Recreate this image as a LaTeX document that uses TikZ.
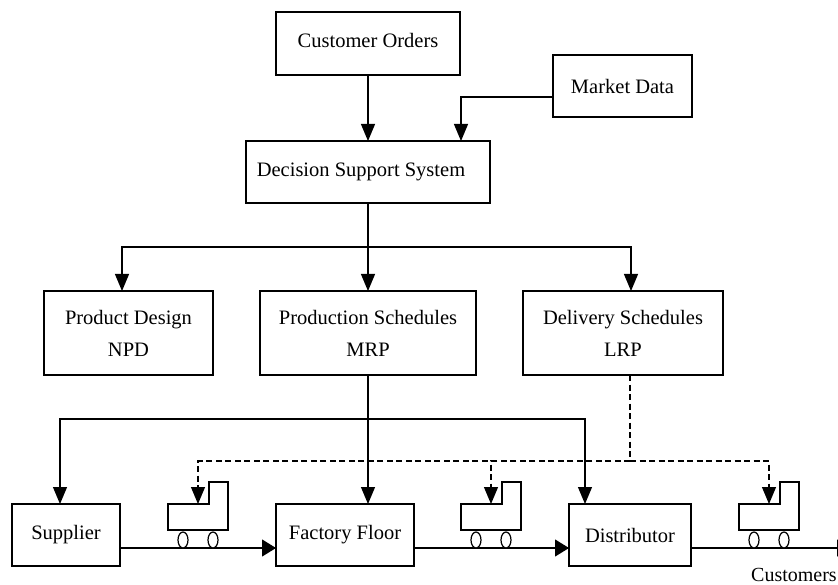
\documentclass[tikz,border=0pt]{standalone}
\usepackage{fontspec}
\setmainfont{Liberation Serif}
\usepackage{tikz}
\usetikzlibrary{arrows.meta}
\tikzset{
    Box/.style = {draw,line width=1.2pt,inner sep=0pt,outer sep=0pt,align=center,font=\fontsize{20.5}{32}\selectfont},
    Flow/.style = {line width=1.2pt,-{Triangle[length=17pt,width=14pt]}},
    FlowH/.style = {line width=1.2pt,-{Triangle[length=14pt,width=17pt]}},
    DashLine/.style = {line width=1.2pt,dash pattern=on 6pt off 3.5pt},
    Cart/.style = {line width=1.2pt,fill=white}
}
\begin{document}
\begin{tikzpicture}[x=1pt,y=-1pt]
        \useasboundingbox (0,0) rectangle (838,585);
        % top row
        \node[Box,minimum width=184pt,minimum height=63pt] (orders) at (368,43.5) {\raisebox{6pt}{Customer Orders}};
        \node[Box,minimum width=139pt,minimum height=62pt] (market) at (622.5,86) {Market Data};
        \node[Box,minimum width=244pt,minimum height=62pt] (dss) at (368,172) {Decision Support System\hspace{14pt}};
        % plans
        \node[Box,minimum width=169pt,minimum height=84pt] (npd) at (128.5,333) {Product Design\\NPD};
        \node[Box,minimum width=216pt,minimum height=84pt] (mrp) at (368,333) {Production Schedules\\MRP};
        \node[Box,minimum width=200pt,minimum height=84pt] (lrp) at (623,333) {Delivery Schedules\\LRP};
        % bottom row
        \node[Box,minimum width=108pt,minimum height=62pt] (supplier) at (66,535) {\raisebox{-3pt}{Supplier}};
        \node[Box,minimum width=138pt,minimum height=62pt] (factory) at (345,535) {\raisebox{-3pt}{Factory Floor}};
        \node[Box,minimum width=122pt,minimum height=62pt] (distributor) at (630,535) {\raisebox{-3pt}{Distributor}};
        \node[font=\fontsize{20}{24}\selectfont,anchor=west,inner sep=0pt] (customers) at (751,575) {Customers};
        \coordinate (branch) at (368,247);
        \coordinate (split) at (368,419);
        \coordinate (dashbus) at (630,461);
        \coordinate (exit) at (851,548);
        % material flow below the carts
        \draw[FlowH] ([yshift=-13pt]supplier.east) -- ([yshift=-13pt]factory.west);
        \draw[FlowH] ([yshift=-13pt]factory.east) -- ([yshift=-13pt]distributor.west);
        \draw[FlowH] ([yshift=-13pt]distributor.east) -- (exit);
        \foreach \Name/\X in {cartA/168,cartB/461,cartC/739}
            {\draw[Cart] (\X,504) -- (\X+41,504) -- (\X+41,482) -- (\X+60,482) -- (\X+60,530) -- (\X,530) -- cycle;
             \draw[Cart] (\X+15,540) ellipse (5 and 8);
             \draw[Cart] (\X+45,540) ellipse (5 and 8);
             \coordinate (\Name) at (\X+30,504);}
        % information flow
        \draw[Flow] (orders) -- (dss);
        \draw[Flow] ([yshift=-11pt]market.west) -| ([xshift=93pt]dss.north);
        \draw[Flow] (dss) -- (mrp);
        \draw[Flow] (branch) -| ([xshift=-6.5pt]npd.north);
        \draw[Flow] (branch) -| ([xshift=8pt]lrp.north);
        \draw[Flow] (mrp.south) -- ([xshift=23pt]factory.north);
        \draw[Flow] (split) -| ([xshift=-6pt]supplier.north);
        \draw[Flow] (split) -| ([xshift=-45pt]distributor.north);
        \draw[DashLine] ([xshift=7pt]lrp.south) -- (dashbus);
        \foreach \Name in {cartA,cartB,cartC}
            {\draw[DashLine,-{Triangle[length=17pt,width=14pt]}] (dashbus) -| (\Name);}
        \end{tikzpicture}
\end{document}
